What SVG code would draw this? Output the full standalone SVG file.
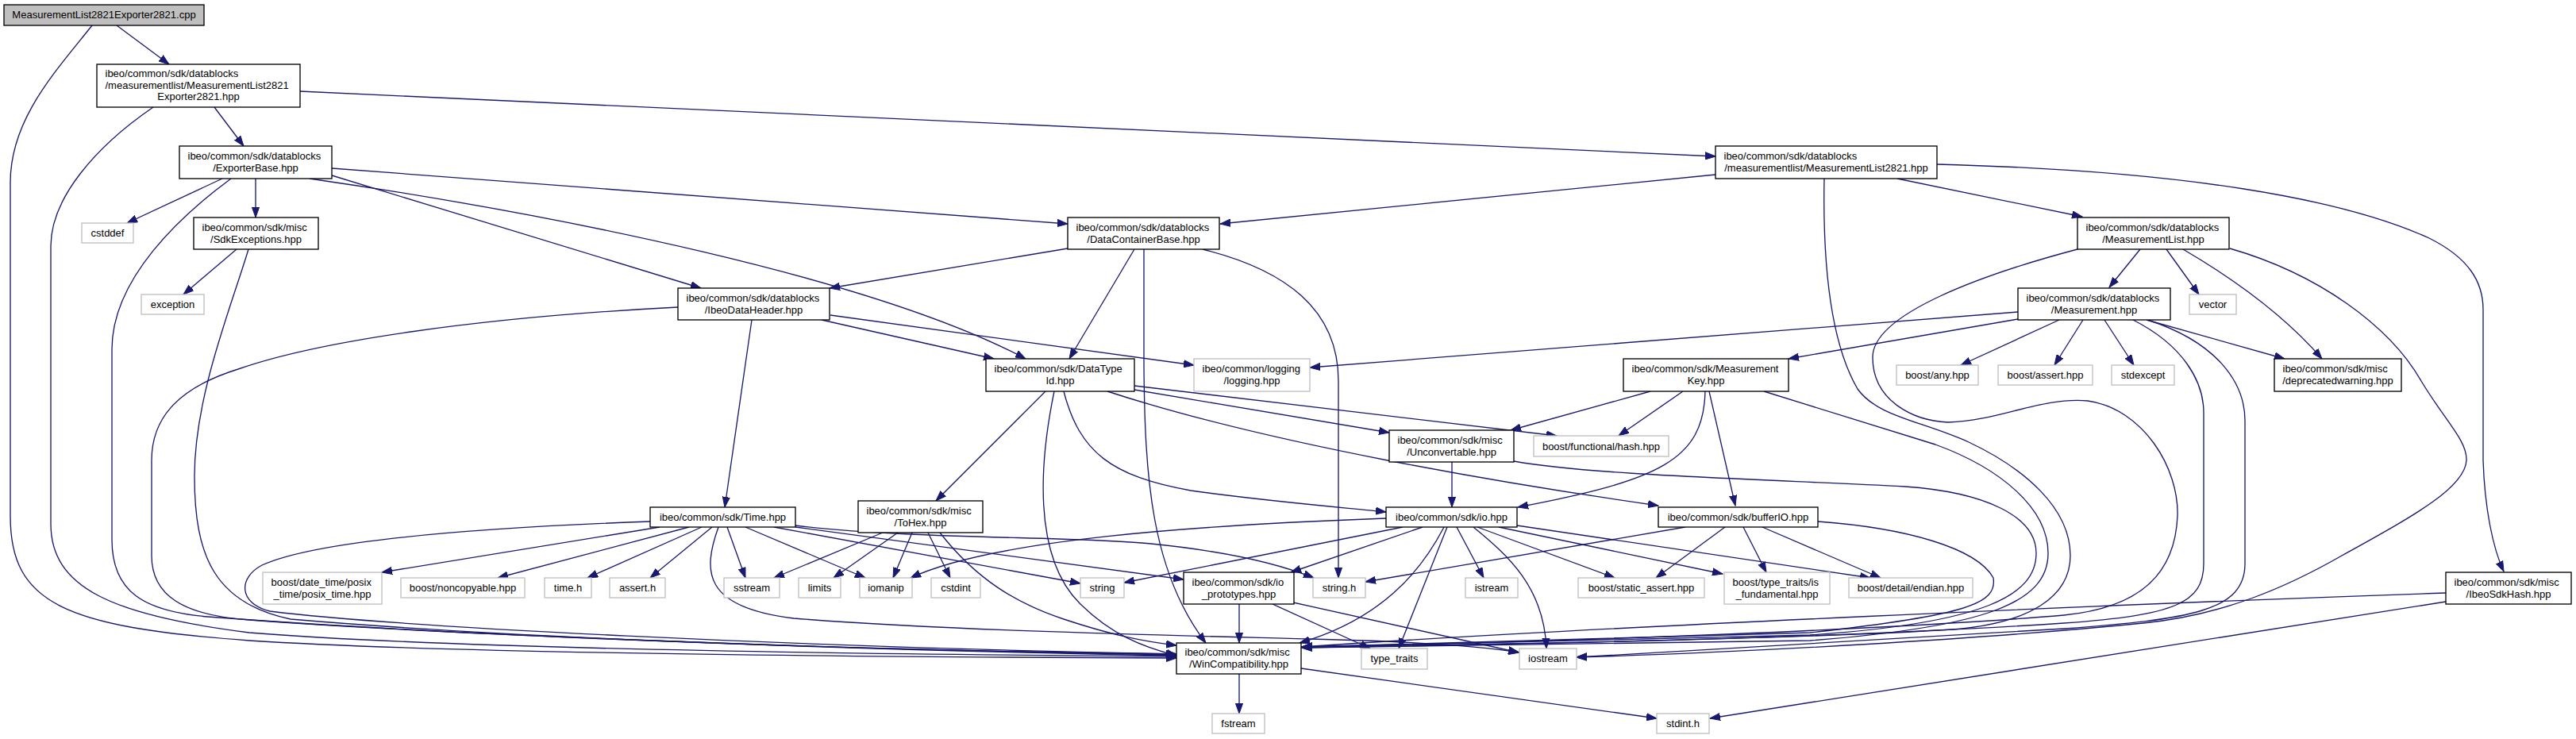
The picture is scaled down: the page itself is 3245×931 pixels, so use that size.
<svg xmlns="http://www.w3.org/2000/svg" width="3245" height="931" viewBox="0 0 3245 931">
<style>
.n rect{fill:#fff;stroke:#000;stroke-width:1.33}
.x rect{fill:#fff;stroke:#bfbfbf;stroke-width:1.33}
#cpp rect{fill:#bfbfbf}
text{font-family:"Liberation Sans",Arial,Helvetica,sans-serif;font-size:13px;fill:#000}
.m{text-anchor:middle}
#edges path{fill:none;stroke:#191970;stroke-width:1.33;marker-end:url(#a)}
</style>
<defs>
<marker id="a" markerUnits="userSpaceOnUse" viewBox="0 0 14 10" markerWidth="14" markerHeight="10" refX="13" refY="5" orient="auto"><path d="M0,0.4 L13,5 L0,9.6 z" fill="#191970" stroke="#191970" stroke-width="1"/></marker>
</defs>
<rect width="3245" height="931" fill="#fff"/>
<g id="edges">
<path d="M147,32 L213,81"/>
<path d="M116,32 C70,90 13,150 13,230 L13,650 C13,760 80,790 314,807 C500,819 900,827 1482,829"/>
<path d="M270,135 L307,184"/>
<path d="M193,135 C120,185 64,250 64,310 L64,660 C64,740 140,775 314,797 C500,812 900,823 1482,827"/>
<path d="M378,115 L2161,197"/>
<path d="M280,225 L160,281"/>
<path d="M291,225 C230,270 141,350 141,440 L141,680 C141,745 180,770 262,777 C500,795 900,815 1482,825"/>
<path d="M322,225 L322,274"/>
<path d="M418,212 L1345,282"/>
<path d="M418,221 L883,363"/>
<path d="M390,225 C700,270 1100,350 1292,452"/>
<path d="M298,314 L231,371"/>
<path d="M313,314 C290,390 245,500 245,600 C245,700 270,760 366,780 C600,800 1000,818 1482,824"/>
<path d="M1345,313 L1045,363"/>
<path d="M1429,314 L1347,452"/>
<path d="M1441,314 L1441,460 C1442,600 1450,720 1519,810"/>
<path d="M1515,314 C1620,340 1686,390 1686,480 L1686,728"/>
<path d="M854,387 C600,400 400,430 300,465 C220,490 191,530 191,580 L191,700 C191,750 230,775 314,781 C500,795 1000,818 1482,826"/>
<path d="M947,403 L913,639"/>
<path d="M1035,403 L1252,452"/>
<path d="M1046,397 L1504,460"/>
<path d="M1317,493 L1179,631"/>
<path d="M1328,493 C1310,580 1300,700 1360,760 C1400,800 1440,815 1482,826"/>
<path d="M1340,493 C1360,570 1400,600 1500,618 C1600,632 1700,640 1746,645"/>
<path d="M1429,486 L1961,549"/>
<path d="M1429,491 L1750,545"/>
<path d="M1395,493 C1600,560 1900,610 2089,637"/>
<path d="M819,657 C600,665 400,680 330,712 C300,728 300,760 340,770 C500,790 1000,815 1482,824"/>
<path d="M831,664 L481,721"/>
<path d="M868,664 L627,728"/>
<path d="M884,664 L740,728"/>
<path d="M897,664 L819,728"/>
<path d="M916,664 L939,728"/>
<path d="M939,664 L1090,728"/>
<path d="M975,664 L1361,735"/>
<path d="M1002,664 L1491,730"/>
<path d="M1002,662 C1150,680 1350,675 1450,685 C1550,695 1610,710 1655,728"/>
<path d="M905,664 C885,720 885,765 1000,779 C1200,795 1500,801 1650,805 C1780,808 1860,813 1914,822"/>
<path d="M1112,671 L975,728"/>
<path d="M1131,671 L1050,728"/>
<path d="M1149,671 L1125,728"/>
<path d="M1169,671 L1197,728"/>
<path d="M1184,671 C1230,730 1280,760 1340,780 C1400,800 1440,808 1482,813"/>
<path d="M1746,653 C1500,662 1250,680 1147,728"/>
<path d="M1767,664 L1416,734"/>
<path d="M1792,664 L1626,721"/>
<path d="M1819,664 C1790,720 1740,780 1637,810"/>
<path d="M1823,664 L1762,817"/>
<path d="M1835,664 L1869,728"/>
<path d="M1856,664 C1900,700 1945,740 1948,817"/>
<path d="M1861,664 L2034,728"/>
<path d="M1888,664 L2170,723"/>
<path d="M1911,662 L2356,728"/>
<path d="M2123,664 L1720,733"/>
<path d="M2173,664 L2086,728"/>
<path d="M2196,664 L2225,721"/>
<path d="M2220,664 L2369,728"/>
<path d="M2290,657 C2400,665 2490,690 2511,728 C2516,760 2480,775 2280,797 C2000,806 1800,811 1640,815"/>
<path d="M2079,493 L1903,542"/>
<path d="M2120,493 L2039,549"/>
<path d="M2148,493 C2146,580 2090,605 1912,639"/>
<path d="M2153,493 L2186,637"/>
<path d="M2222,493 L2438,560 C2520,590 2580,640 2580,697 C2580,760 2500,790 2280,807 C2000,812 1800,814 1640,816"/>
<path d="M1829,582 L1829,639"/>
<path d="M1907,581 C2000,598 2200,603 2400,613 C2500,620 2565,650 2565,697 C2565,750 2500,785 2280,800 C2000,808 1800,812 1640,815"/>
<path d="M2542,393 L1650,463"/>
<path d="M2542,402 L2253,452"/>
<path d="M2594,403 L2470,460"/>
<path d="M2624,403 L2588,460"/>
<path d="M2651,403 L2688,460"/>
<path d="M2704,403 L2878,452"/>
<path d="M2687,403 C2750,435 2776,480 2776,520 L2776,710 C2776,760 2740,775 2600,785 C2300,805 1900,812 1640,816"/>
<path d="M2705,403 C2790,430 2828,480 2828,530 L2828,710 C2828,770 2760,780 2600,792 C2300,810 2100,822 1986,828"/>
<path d="M2696,314 L2657,362"/>
<path d="M2729,314 L2770,371"/>
<path d="M2750,314 C2820,355 2880,400 2925,452"/>
<path d="M2617,314 C2500,345 2359,395 2359,450 C2359,505 2410,530 2454,532 C2520,530 2570,500 2630,505 C2700,515 2745,590 2743,650 C2740,720 2700,765 2600,775 C2400,792 2000,808 1640,815"/>
<path d="M2809,313 C2920,345 3010,410 3050,480 C3080,530 3108,555 3107,580 C3105,615 3040,650 2950,700 C2880,740 2800,775 2700,785 C2500,805 2200,822 1986,828"/>
<path d="M2161,220 L1537,282"/>
<path d="M2390,225 L2623,273"/>
<path d="M2440,207 C2750,215 2950,250 3060,300 C3110,325 3128,355 3128,390 L3128,580 C3130,640 3140,690 3154,720"/>
<path d="M2298,225 C2296,330 2305,430 2340,490 C2365,525 2420,530 2480,557 C2550,590 2608,640 2608,700 C2608,750 2560,785 2460,793 C2300,803 2000,810 1640,815"/>
<path d="M3081,747 C2700,760 2000,790 1640,815"/>
<path d="M3081,758 L2154,905"/>
<path d="M1561,849 L1561,899"/>
<path d="M1639,842 L2087,905"/>
<path d="M1561,761 L1561,810"/>
<path d="M1603,761 L1726,817"/>
<path d="M1629,759 L1913,822"/>
</g>
<g id="cpp" class="n"><rect x="5" y="6" width="252" height="26"/><text class="m" x="131" y="23">MeasurementList2821Exporter2821.cpp</text></g>
<g id="exp" class="n"><rect x="122" y="81" width="256" height="54"/><text x="132.5" y="97">ibeo/common/sdk/datablocks</text><text x="132.5" y="111.5">/measurementlist/MeasurementList2821</text><text class="m" x="250" y="126">Exporter2821.hpp</text></g>
<g id="eb" class="n"><rect x="226" y="184" width="192" height="41"/><text x="236.5" y="200.5">ibeo/common/sdk/datablocks</text><text class="m" x="322" y="215.5">/ExporterBase.hpp</text></g>
<g id="cstddef" class="x"><rect x="103" y="281" width="65" height="25"/><text class="m" x="135.5" y="298">cstddef</text></g>
<g id="sdkex" class="n"><rect x="244" y="274" width="157" height="40"/><text x="254.5" y="290.5">ibeo/common/sdk/misc</text><text class="m" x="322.5" y="305.5">/SdkExceptions.hpp</text></g>
<g id="exception" class="x"><rect x="178" y="371" width="79" height="25"/><text class="m" x="217.5" y="388">exception</text></g>
<g id="dcb" class="n"><rect x="1345" y="274" width="191" height="40"/><text x="1355.5" y="290.5">ibeo/common/sdk/datablocks</text><text class="m" x="1440.5" y="305.5">/DataContainerBase.hpp</text></g>
<g id="idh" class="n"><rect x="854" y="363" width="191" height="40"/><text x="864.5" y="379.5">ibeo/common/sdk/datablocks</text><text class="m" x="949.5" y="394.5">/IbeoDataHeader.hpp</text></g>
<g id="dti" class="n"><rect x="1242" y="452" width="187" height="41"/><text x="1252.5" y="468.5">ibeo/common/sdk/DataType</text><text class="m" x="1335.5" y="483.5">Id.hpp</text></g>
<g id="logging" class="x"><rect x="1504" y="452" width="146" height="41"/><text x="1514.5" y="468.5">ibeo/common/logging</text><text class="m" x="1577" y="483.5">/logging.hpp</text></g>
<g id="ml2821" class="n"><rect x="2161" y="184" width="279" height="41"/><text x="2171.5" y="200.5">ibeo/common/sdk/datablocks</text><text class="m" x="2300.5" y="215.5">/measurementlist/MeasurementList2821.hpp</text></g>
<g id="ml" class="n"><rect x="2617" y="274" width="191" height="40"/><text x="2627.5" y="290.5">ibeo/common/sdk/datablocks</text><text class="m" x="2712.5" y="305.5">/MeasurementList.hpp</text></g>
<g id="meas" class="n"><rect x="2542" y="363" width="192" height="40"/><text x="2552.5" y="379.5">ibeo/common/sdk/datablocks</text><text class="m" x="2638" y="394.5">/Measurement.hpp</text></g>
<g id="vector" class="x"><rect x="2758" y="371" width="59" height="25"/><text class="m" x="2787.5" y="388">vector</text></g>
<g id="depr" class="n"><rect x="2865" y="452" width="160" height="41"/><text x="2875.5" y="468.5">ibeo/common/sdk/misc</text><text class="m" x="2945" y="483.5">/deprecatedwarning.hpp</text></g>
<g id="any" class="x"><rect x="2389" y="460" width="103" height="25"/><text class="m" x="2440.5" y="477">boost/any.hpp</text></g>
<g id="bassert" class="x"><rect x="2517" y="460" width="119" height="25"/><text class="m" x="2576.5" y="477">boost/assert.hpp</text></g>
<g id="stdexcept" class="x"><rect x="2660" y="460" width="79" height="25"/><text class="m" x="2699.5" y="477">stdexcept</text></g>
<g id="mk" class="n"><rect x="2045" y="452" width="208" height="41"/><text x="2055.5" y="468.5">ibeo/common/sdk/Measurement</text><text class="m" x="2149" y="483.5">Key.hpp</text></g>
<g id="fhash" class="x"><rect x="1932" y="549" width="170" height="26"/><text class="m" x="2017" y="566.5">boost/functional/hash.hpp</text></g>
<g id="unc" class="n"><rect x="1750" y="542" width="157" height="40"/><text x="1760.5" y="558.5">ibeo/common/sdk/misc</text><text class="m" x="1828.5" y="573.5">/Unconvertable.hpp</text></g>
<g id="io" class="n"><rect x="1746" y="639" width="165" height="25"/><text class="m" x="1828.5" y="656">ibeo/common/sdk/io.hpp</text></g>
<g id="bio" class="n"><rect x="2089" y="639" width="201" height="25"/><text class="m" x="2189.5" y="656">ibeo/common/sdk/bufferIO.hpp</text></g>
<g id="time" class="n"><rect x="819" y="639" width="183" height="25"/><text class="m" x="910.5" y="656">ibeo/common/sdk/Time.hpp</text></g>
<g id="tohex" class="n"><rect x="1081" y="631" width="157" height="40"/><text x="1091.5" y="647.5">ibeo/common/sdk/misc</text><text class="m" x="1159.5" y="662.5">/ToHex.hpp</text></g>
<g id="posix" class="x"><rect x="331" y="721" width="150" height="40"/><text x="341.5" y="737.5">boost/date_time/posix</text><text class="m" x="406" y="752.5">_time/posix_time.hpp</text></g>
<g id="noncopyable" class="x"><rect x="505" y="728" width="156" height="25"/><text class="m" x="583" y="745">boost/noncopyable.hpp</text></g>
<g id="timeh" class="x"><rect x="686" y="728" width="59" height="25"/><text class="m" x="715.5" y="745">time.h</text></g>
<g id="asserth" class="x"><rect x="768" y="728" width="70" height="25"/><text class="m" x="803" y="745">assert.h</text></g>
<g id="sstream" class="x"><rect x="912" y="728" width="70" height="25"/><text class="m" x="947" y="745">sstream</text></g>
<g id="limits" class="x"><rect x="1006" y="728" width="53" height="25"/><text class="m" x="1032.5" y="745">limits</text></g>
<g id="iomanip" class="x"><rect x="1083" y="728" width="66" height="25"/><text class="m" x="1116" y="745">iomanip</text></g>
<g id="cstdint" class="x"><rect x="1173" y="728" width="62" height="25"/><text class="m" x="1204" y="745">cstdint</text></g>
<g id="string" class="x"><rect x="1361" y="728" width="55" height="25"/><text class="m" x="1388.5" y="745">string</text></g>
<g id="iop" class="n"><rect x="1491" y="721" width="139" height="40"/><text x="1501.5" y="737.5">ibeo/common/sdk/io</text><text class="m" x="1560.5" y="752.5">_prototypes.hpp</text></g>
<g id="stringh" class="x"><rect x="1654" y="728" width="66" height="25"/><text class="m" x="1687" y="745">string.h</text></g>
<g id="istream" class="x"><rect x="1846" y="728" width="66" height="25"/><text class="m" x="1879" y="745">istream</text></g>
<g id="sassert" class="x"><rect x="1988" y="728" width="159" height="25"/><text class="m" x="2067.5" y="745">boost/static_assert.hpp</text></g>
<g id="isfund" class="x"><rect x="2172" y="721" width="133" height="40"/><text x="2182.5" y="737.5">boost/type_traits/is</text><text class="m" x="2238.5" y="752.5">_fundamental.hpp</text></g>
<g id="endian" class="x"><rect x="2329" y="728" width="156" height="25"/><text class="m" x="2407" y="745">boost/detail/endian.hpp</text></g>
<g id="sdkhash" class="n"><rect x="3081" y="721" width="158" height="40"/><text x="3091.5" y="737.5">ibeo/common/sdk/misc</text><text class="m" x="3160" y="752.5">/IbeoSdkHash.hpp</text></g>
<g id="win" class="n"><rect x="1482" y="810" width="157" height="39"/><text x="1492.5" y="826">ibeo/common/sdk/misc</text><text class="m" x="1560.5" y="841">/WinCompatibility.hpp</text></g>
<g id="typetraits" class="x"><rect x="1715" y="817" width="83" height="26"/><text class="m" x="1756.5" y="834">type_traits</text></g>
<g id="iostream" class="x"><rect x="1914" y="817" width="72" height="26"/><text class="m" x="1950" y="834">iostream</text></g>
<g id="fstream" class="x"><rect x="1527" y="899" width="66" height="25"/><text class="m" x="1560" y="916">fstream</text></g>
<g id="stdinth" class="x"><rect x="2087" y="899" width="66" height="25"/><text class="m" x="2120" y="916">stdint.h</text></g>
</svg>
